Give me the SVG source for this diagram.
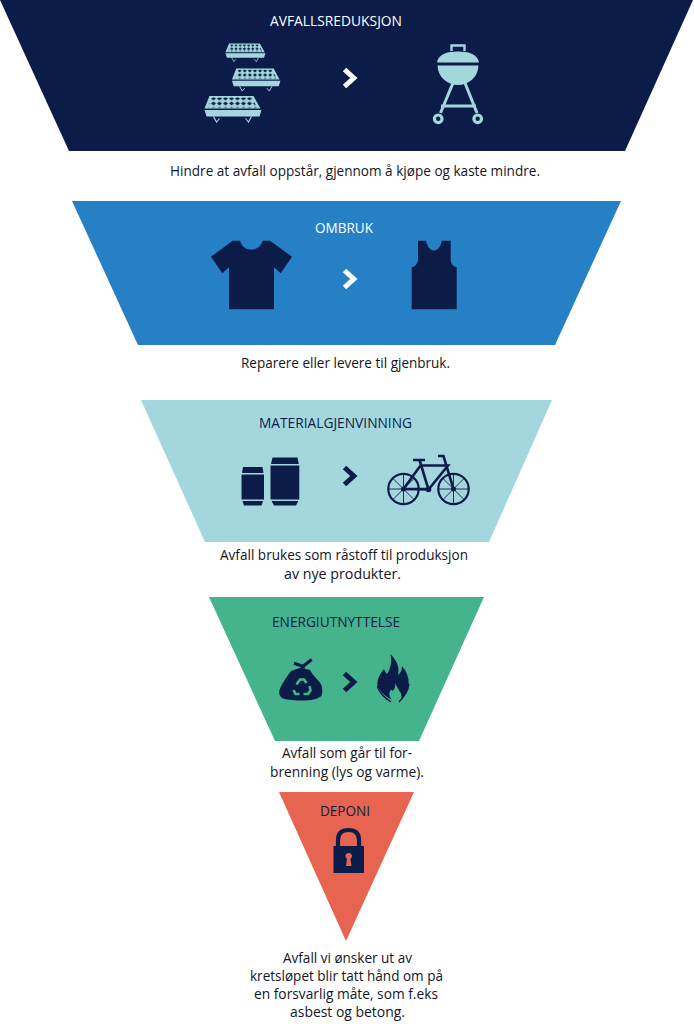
<svg xmlns="http://www.w3.org/2000/svg" xmlns:xlink="http://www.w3.org/1999/xlink" width="694" height="1024" viewBox="0 0 694 1024">
<style>
text{font-family:"Open Sans","Noto Sans","Liberation Sans",sans-serif;font-size:14px}
.b{fill:#13151f}.n{fill:#0c1c48}.w{fill:#fff}
.d{fill:#0c1c48}.p{fill:#a4d7dd}
.chw{fill:none;stroke:#fff;stroke-width:5;stroke-linejoin:miter}
.chd{fill:none;stroke:#0c1c48;stroke-width:5;stroke-linejoin:miter}
</style>
<defs>
<pattern id="mesh" width="6" height="5" patternUnits="userSpaceOnUse">
<path d="M3 .4L5.400 2.500L3 4.600L.6 2.500Z" fill="#0c1c48"/>
</pattern>
<g id="grill">
<path class="p" d="M5 0H49L56 12.500H0Z"/>
<path fill="url(#mesh)" d="M6.500 1.500H47.500L52.500 11.500H3.500Z"/>
<path class="p" d="M0 14H57L55 20.500H2Z"/>
<path d="M9 20.500L12 26L15 22.500M47 20.500L44 26L41 22.500" fill="none" stroke="#a4d7dd" stroke-width="1.100"/>
</g>
</defs>
<g id="connectors"/>
<g id="level1">
<path fill="#0c1c48" d="M0 0H693L625 151H69Z"/>
<text class="w" x="270" y="26" textLength="132" lengthAdjust="spacingAndGlyphs">AVFALLSREDUKSJON</text>
<use xlink:href="#grill" href="#grill" transform="translate(225.500 43.500) scale(.7 .7)"/>
<use xlink:href="#grill" href="#grill" transform="translate(232 68.500) scale(.85 .87)"/>
<use xlink:href="#grill" href="#grill" transform="translate(204.500 96) scale(1 1)"/>
<path class="chw" d="M344.500 69.500L353.800 78L344.500 86.500"/>
<g id="kettle">
<path class="p" d="M437 62.500C438 54.500 447 51.500 458 51.500C469 51.500 478 54.500 479 62.500ZM437.500 65.500H478.500C478 77 469 85 458 85C447 85 438 77 437.500 65.500Z"/>
<path d="M451.500 51V45.500H464.500V51" fill="none" stroke="#a4d7dd" stroke-width="2.400"/>
<path d="M453 83L440.500 113M465 83L477 113M441 106H476" fill="none" stroke="#a4d7dd" stroke-width="3"/>
<circle cx="438.200" cy="118.800" r="3.800" fill="none" stroke="#a4d7dd" stroke-width="3.200"/>
<circle cx="477.700" cy="118.800" r="3.800" fill="none" stroke="#a4d7dd" stroke-width="3.200"/>
</g>
</g>
<text id="t1" x="170" y="176" class="b" textLength="370" lengthAdjust="spacingAndGlyphs">Hindre at avfall oppstår, gjennom å kjøpe og kaste mindre.</text>
<g id="level2">
<path fill="#2680c5" d="M72 201H621L555 345H138Z"/>
<text class="w" x="315" y="233" textLength="58" lengthAdjust="spacingAndGlyphs">OMBRUK</text>
<path class="d" d="M211 256.700L232.700 240.700H240C242 247 246 249.500 251.300 249.500C256.500 249.500 260.500 247 262.700 240.700H270L292 256.700L280.700 273.300L274 267.300V309.300H229V267.300L222.300 273.300Z"/>
<path class="d" d="M418 240.700H426C427 246 430 250.500 434 250.500C438 250.500 441 246 441.700 240.700H450.700V260C451 264 453 266.500 456.700 267.300V309.300H411.700V267.300C415.500 266.500 417.500 264 418 260Z"/>
<path class="chw" d="M344.500 270.500L353.800 279L344.500 287.500"/>
</g>
<text id="t2" x="241" y="368" class="b" textLength="209" lengthAdjust="spacingAndGlyphs">Reparere eller levere til gjenbruk.</text>
<g id="level3">
<path fill="#a4d7dd" d="M141 400H552L489 542H205Z"/>
<text class="n" x="259" y="428" textLength="153" lengthAdjust="spacingAndGlyphs">MATERIALGJENVINNING</text>
<path class="d" d="M243 467H262.500L263.500 473H242ZM241.500 474.500H264V499.500H241.500ZM242.500 501H263L261.500 505.500H244Z"/>
<path class="d" d="M272.500 457.500H297.500L298.800 464H271ZM270.500 465.500H299.300V499.500H270.500ZM271.500 501H298.300L296 505.500H274Z"/>
<path class="chd" d="M344.500 467.500L353.800 476L344.500 484.500"/>
<g id="bike" fill="none" stroke="#0c1c48">
<circle cx="403.500" cy="489" r="15.200" stroke-width="2.200"/>
<circle cx="453.500" cy="489" r="15.200" stroke-width="2.200"/>
<path stroke-width=".9" d="M403.500 474V504M388.500 489H418.500M393 478.500L414 499.500M393 499.500L414 478.500M453.500 474V504M438.500 489H468.500M443 478.500L464 499.500M443 499.500L464 478.500"/>
<path stroke-width="2.600" d="M403.500 489L420.500 465.500H448L428.500 489.500ZM403.500 489H428.500M419.500 460L428.500 489.500M413 460H425M438 456H443.500L453.500 489"/>
<circle cx="428.500" cy="489.500" r="2.800" fill="#0c1c48" stroke="none"/>
<circle cx="403.500" cy="489" r="2.500" fill="#0c1c48" stroke="none"/>
<circle cx="453.500" cy="489" r="2.500" fill="#0c1c48" stroke="none"/>
</g>
</g>
<text x="220" y="560" class="b" textLength="248" lengthAdjust="spacingAndGlyphs">Avfall brukes som råstoff til produksjon</text>
<text x="284" y="579" class="b" textLength="117" lengthAdjust="spacingAndGlyphs">av nye produkter.</text>
<g id="level4">
<path fill="#45b48d" d="M209 597H484L419 741H275Z"/>
<text class="n" x="272" y="627" textLength="128" lengthAdjust="spacingAndGlyphs">ENERGIUTNYTTELSE</text>
<path d="M294 663.300L305 667M311.700 659.500L301.500 667.500" fill="none" stroke="#0c1c48" stroke-width="3.200"/>
<path class="d" d="M291 671L301 667.500L310 670C313 676 319 680 321.500 685C322.500 689 322.500 693 321.500 696C316 700 309 700.500 303 700.500C296 700.500 288 700 283 698.500C279.500 696.500 278.500 693 279.500 690C281 685 286 678 291 671Z"/>
<g fill="none" stroke="#45b48d" stroke-width="2.600"><path d="M296.500 684.500L300 679.500H304L306.500 683"/><path d="M309.500 686L310.500 690.500L308 694H303.500"/><path d="M299.500 694H295.500L293.500 690"/></g>
<path class="chd" d="M344.500 673.500L353.800 682L344.500 690.500"/>
<path class="d" d="M390.500 654C398 662 399.500 668 398 675C400.500 673.500 402 670 402 666C406.500 671 408.800 677 408.800 684C408 693 402 699 397 702C392 699 384 698 377.500 686C376.500 678 381 673 384 669C385 671.500 386 673 387 674C391 668 392 660 390.500 654Z"/>
<path fill="#45b48d" d="M395.500 683C397 689 402 692 401.500 697C401 700 399 702 397 703C394 702 390 699 389.500 695C389 692.500 390 691 391 689.500C392 691 393.500 691 394 689.500C395 687.500 395.500 685.500 395.500 683Z"/>
<path d="M377.500 686C379 693 385 698 391 702M408.800 684C408 693 402 699 399 702" fill="none" stroke="#0c1c48" stroke-width="1.500"/>
</g>
<text x="282" y="758" class="b" textLength="130" lengthAdjust="spacingAndGlyphs">Avfall som går til for-</text>
<text x="270" y="777" class="b" textLength="154" lengthAdjust="spacingAndGlyphs">brenning (lys og varme).</text>
<g id="level5">
<path fill="#e76450" d="M279 792H414L346 941Z"/>
<text class="n" x="320" y="816" textLength="50" lengthAdjust="spacingAndGlyphs">DEPONI</text>
<path fill="none" stroke="#0c1c48" stroke-width="4.200" d="M338 848V840C338 833 342 830 348.500 830C355 830 359 833 359 840V848"/>
<path class="d" fill-rule="evenodd" d="M333.500 846H364V873H333.500ZM348.700 853A3.200 3.200 0 0 0 347 859L346 866H351.500L350.400 859A3.200 3.200 0 0 0 348.700 853Z"/>
</g>
<text x="283" y="963" class="b" textLength="129" lengthAdjust="spacingAndGlyphs">Avfall vi ønsker ut av</text>
<text x="250" y="981" class="b" textLength="193" lengthAdjust="spacingAndGlyphs">kretsløpet blir tatt hånd om på</text>
<text x="254" y="999" class="b" textLength="184" lengthAdjust="spacingAndGlyphs">en forsvarlig måte, som f.eks</text>
<text x="290" y="1017" class="b" textLength="115" lengthAdjust="spacingAndGlyphs">asbest og betong.</text>
</svg>
